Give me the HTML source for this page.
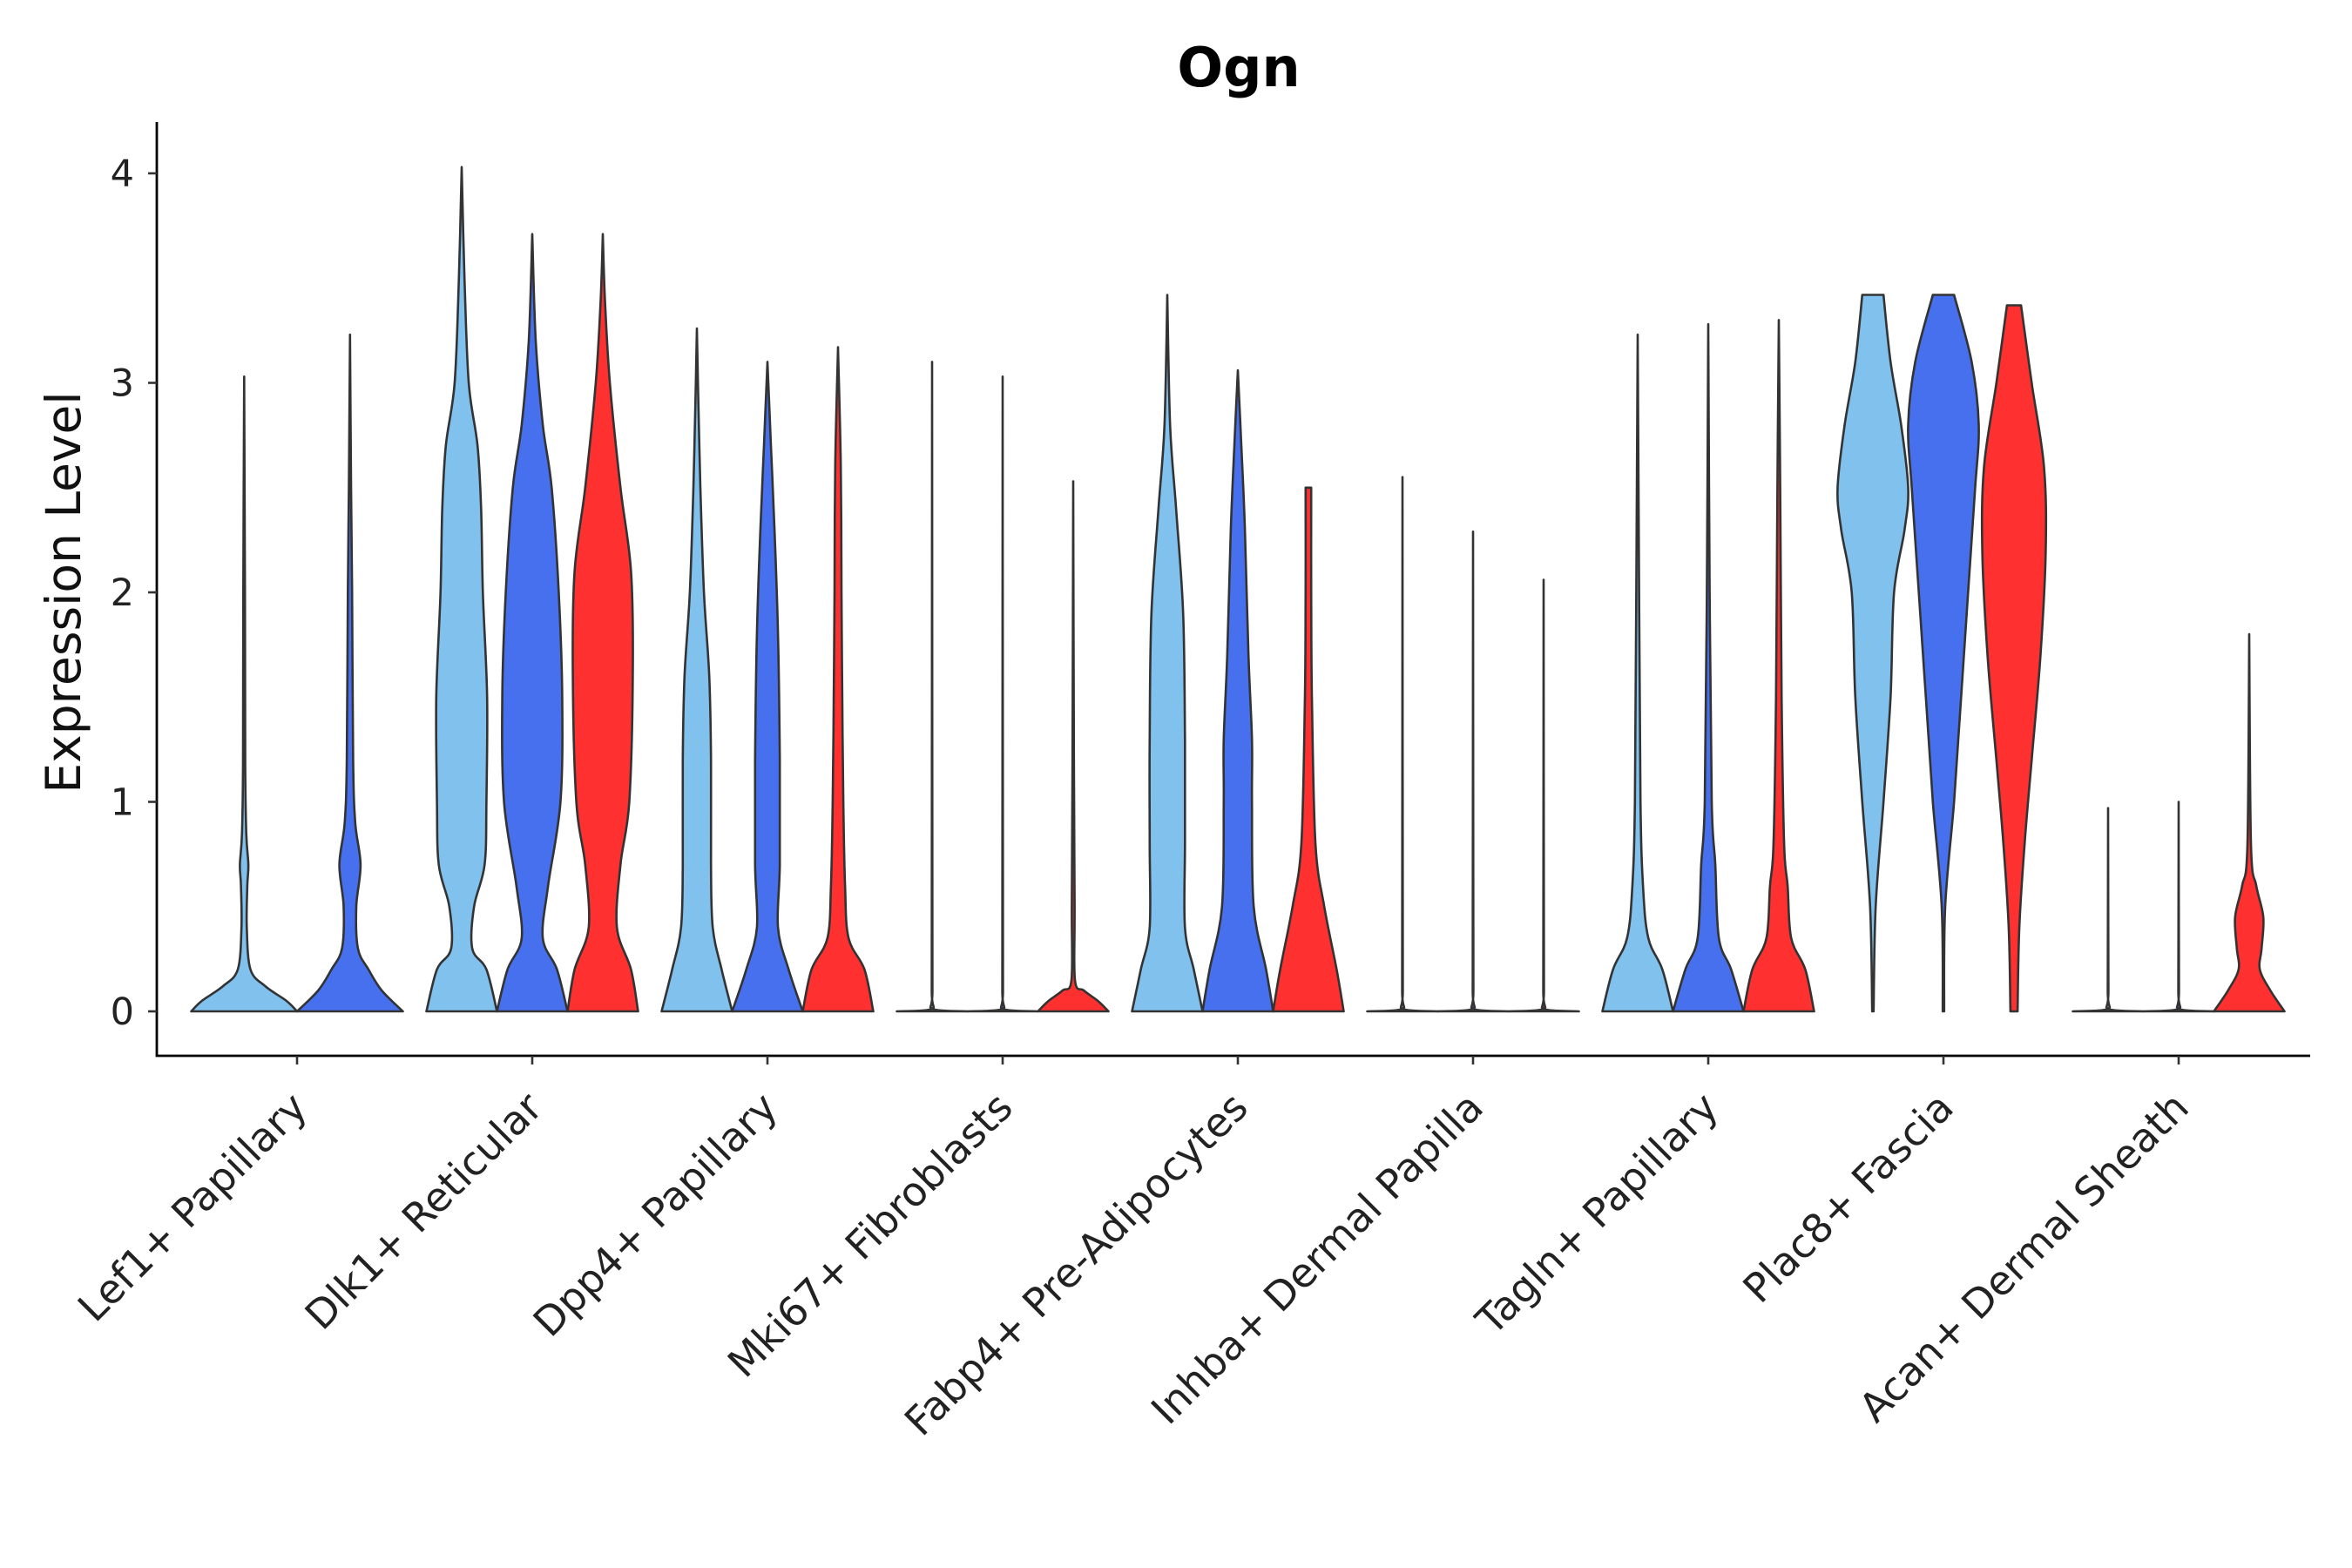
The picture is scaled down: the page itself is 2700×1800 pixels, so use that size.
<!DOCTYPE html>
<html><head><meta charset="utf-8"><style>
html,body{margin:0;padding:0;background:#fff}
svg{display:block}
text{font-family:"DejaVu Sans","Liberation Sans",sans-serif}
</style></head><body>
<svg id="chart" width="2700" height="1800" viewBox="0 0 2700 1800" xmlns="http://www.w3.org/2000/svg">
<text x="1422" y="99" text-anchor="middle" font-size="62" font-weight="bold">Ogn</text>
<text transform="translate(92,680) rotate(-90)" text-anchor="middle" font-size="55" fill="#111">Expression Level</text>
<g id="plot"></g>
</svg>
<script>
const categories = ["Lef1+ Papillary","Dlk1+ Reticular","Dpp4+ Papillary","Mki67+ Fibroblasts","Fabp4+ Pre-Adipocytes","Inhba+ Dermal Papilla","Tagln+ Papillary","Plac8+ Fascia","Acan+ Dermal Sheath"];
const conditions = ["light","blue","red"];
const yTicks = [0,1,2,3,4];
// Each violin: [category index, condition index, density profile [[y, relative half width], ...]]
const violins = [
 [0,0,[[0,1],[0.05,0.8],[0.12,0.4],[0.2,0.12],[0.4,0.05],[0.6,0.06],[0.7,0.08],[0.85,0.04],[1.2,0.02],[2,0.015],[3.03,0]]],
 [0,1,[[0,1],[0.1,0.6],[0.2,0.35],[0.3,0.15],[0.5,0.12],[0.7,0.2],[0.9,0.1],[1.2,0.06],[2,0.04],[2.5,0.02],[3.23,0]]],
 [1,0,[[0,1],[0.2,0.7],[0.3,0.3],[0.5,0.35],[0.7,0.65],[1,0.7],[1.5,0.72],[2,0.6],[2.4,0.55],[2.7,0.45],[3,0.2],[3.5,0.08],[4.03,0]]],
 [1,1,[[0,1],[0.2,0.7],[0.35,0.3],[0.6,0.45],[1,0.8],[1.5,0.85],[2,0.75],[2.5,0.55],[2.8,0.3],[3.2,0.1],[3.71,0]]],
 [1,2,[[0,1],[0.2,0.8],[0.4,0.4],[0.7,0.5],[1,0.75],[1.6,0.85],[2.1,0.8],[2.5,0.5],[3,0.2],[3.4,0.06],[3.71,0]]],
 [2,0,[[0,1],[0.2,0.7],[0.4,0.45],[0.7,0.4],[1.2,0.4],[1.6,0.35],[2,0.2],[2.5,0.1],[3,0.03],[3.26,0]]],
 [2,1,[[0,1],[0.2,0.6],[0.4,0.3],[0.7,0.35],[1.2,0.35],[1.8,0.3],[2.3,0.2],[2.7,0.1],[3.1,0]]],
 [2,2,[[0,1],[0.2,0.75],[0.35,0.3],[0.6,0.2],[1,0.15],[1.5,0.12],[2,0.1],[2.6,0.08],[3.17,0]]],
 [3,0,[[0,1],[0.01,0.03],[0.1,0.01],[3.1,0]]],
 [3,1,[[0,1],[0.01,0.03],[0.1,0.01],[3.03,0]]],
 [3,2,[[0,1],[0.05,0.7],[0.1,0.3],[0.15,0.05],[0.5,0.04],[1.2,0.02],[2.53,0]]],
 [4,0,[[0,1],[0.2,0.75],[0.4,0.5],[0.8,0.5],[1.3,0.5],[1.9,0.45],[2.4,0.25],[2.8,0.08],[3.42,0]]],
 [4,1,[[0,1],[0.2,0.8],[0.5,0.45],[1,0.4],[1.3,0.4],[1.7,0.3],[2.3,0.2],[2.7,0.1],[3.06,0]]],
 [4,2,[[0,1],[0.2,0.8],[0.5,0.45],[0.8,0.2],[1.5,0.1],[2,0.08],[2.5,0.08]]],
 [5,0,[[0,1],[0.01,0.03],[0.1,0.01],[2.55,0]]],
 [5,1,[[0,1],[0.01,0.03],[0.1,0.01],[2.29,0]]],
 [5,2,[[0,1],[0.01,0.03],[0.1,0.01],[2.06,0]]],
 [6,0,[[0,1],[0.2,0.7],[0.35,0.3],[0.6,0.15],[1,0.08],[2,0.04],[3.23,0]]],
 [6,1,[[0,1],[0.2,0.65],[0.35,0.3],[0.7,0.2],[1,0.1],[2,0.04],[3.28,0]]],
 [6,2,[[0,1],[0.2,0.75],[0.35,0.35],[0.6,0.25],[0.8,0.15],[1.5,0.08],[2.5,0.04],[3.3,0]]],
 [7,0,[[0,0.02],[0.5,0.08],[1,0.3],[1.5,0.5],[2,0.6],[2.3,0.9],[2.5,1],[2.8,0.8],[3.1,0.5],[3.42,0.3]]],
 [7,1,[[0,0.02],[0.5,0.05],[1,0.3],[1.5,0.5],[2,0.7],[2.5,0.9],[2.8,1],[3.1,0.8],[3.42,0.3]]],
 [7,2,[[0,0.1],[0.4,0.15],[0.8,0.3],[1.2,0.5],[1.7,0.75],[2.2,0.9],[2.6,0.85],[3,0.5],[3.37,0.2]]],
 [8,0,[[0,1],[0.01,0.03],[0.1,0.01],[0.97,0]]],
 [8,1,[[0,1],[0.01,0.03],[0.1,0.01],[1.0,0]]],
 [8,2,[[0,1],[0.1,0.6],[0.2,0.3],[0.3,0.35],[0.45,0.4],[0.6,0.2],[0.8,0.05],[1.8,0]]]
];
const colors = {light:"#80C1EE", blue:"#4670EE", red:"#FF3030"};
const NS="http://www.w3.org/2000/svg";
const g=document.getElementById('plot');
const X0=180, X1=2652, YB=1212;
const yScale=v=>1161-v*240.5;
const xScale=i=>341+i*270;
function el(t,a){const e=document.createElementNS(NS,t);for(const k in a)e.setAttribute(k,a[k]);g.appendChild(e);return e;}
function smooth(pts,ymax){
  const cl=y=>Math.min(y,ymax);
  let d="M"+pts[0][0].toFixed(1)+","+pts[0][1].toFixed(1);
  for(let i=0;i<pts.length-1;i++){
    const p0=pts[Math.max(0,i-1)],p1=pts[i],p2=pts[i+1],p3=pts[Math.min(pts.length-1,i+2)];
    const c1=[p1[0]+(p2[0]-p0[0])/6,cl(p1[1]+(p2[1]-p0[1])/6)];
    const c2=[p2[0]-(p3[0]-p1[0])/6,cl(p2[1]-(p3[1]-p1[1])/6)];
    d+="C"+c1[0].toFixed(1)+","+c1[1].toFixed(1)+" "+c2[0].toFixed(1)+","+c2[1].toFixed(1)+" "+p2[0].toFixed(1)+","+p2[1].toFixed(1);
  }
  return d;
}
const counts=categories.map((c,i)=>violins.filter(v=>v[0]===i).length);
violins.forEach(v=>{
  const [ci,k,prof]=v;
  const n=counts[ci];
  const idx=violins.filter(w=>w[0]===ci&&w[1]<k).length;
  const dodge=0.9*270/n;
  const cx=xScale(ci)+(idx-(n-1)/2)*dodge;
  const hw=dodge/2;
  const ymax=yScale(prof[0][0]);
  const right=prof.map(p=>[cx+p[1]*hw,yScale(p[0])]);
  const left=prof.slice().reverse().map(p=>[cx-p[1]*hw,yScale(p[0])]);
  const dr=smooth(right,ymax);
  const dl=smooth(left,ymax).replace(/^M/,"L");
  const p=el('path',{d:dr+dl+"Z",fill:colors[conditions[k]],stroke:"#333",'stroke-width':2.6,'stroke-linejoin':'round'});
  
  
});
const ya=el('line',{x1:X0,y1:140,x2:X0,y2:YB,stroke:"#000",'stroke-width':2.8});


const xa=el('line',{x1:X0-1.4,y1:YB,x2:X1,y2:YB,stroke:"#000",'stroke-width':2.8});


yTicks.forEach(t=>{
  const y=yScale(t);
  const tk=el('line',{x1:X0-10,y1:y,x2:X0,y2:y,stroke:"#333",'stroke-width':2.6});
  
  
  const tx=el('text',{x:X0-26,y:y+15,'text-anchor':'end','font-size':43,fill:'#222'});
  tx.textContent=t;
  
  
});
categories.forEach((c,i)=>{
  const x=xScale(i);
  const tk=el('line',{x1:x,y1:YB,x2:x,y2:YB+10,stroke:"#333",'stroke-width':2.6});
  
  
  const tx=el('text',{x:0,y:0,'text-anchor':'end','font-size':46,fill:'#222',transform:`translate(${x+14},${YB+62}) rotate(-45)`});
  tx.textContent=c;
  
  
});
</script>
</body></html>
